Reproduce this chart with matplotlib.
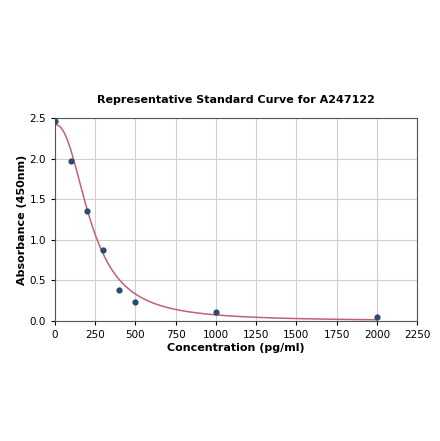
import matplotlib
matplotlib.use("Agg")
import matplotlib.pyplot as plt
import numpy as np

# standard points
conc = [0, 100, 200, 300, 400, 500, 1000, 2000]
absorb = [2.46, 1.97, 1.36, 0.88, 0.38, 0.23, 0.11, 0.05]

# 4PL fit parameters (top, bottom, ec50, slope) estimated from the drawn curve
fit_top = 2.42
fit_bottom = 0.0
fit_c = 225.0
fit_b = 2.3

xx = np.linspace(0, 2000, 500)
yy = fit_bottom + (fit_top - fit_bottom) / (1 + (xx / fit_c) ** fit_b)

fig = plt.figure(figsize=(4.4, 4.41), dpi=100)
ax = fig.add_axes([0.125, 0.272, 0.823, 0.46])
ax.plot(xx, yy, color='#c0607e', lw=1.1, zorder=2)
ax.scatter(conc, absorb, s=12, color='#2b4a6f', zorder=3)
ax.set_xlim(0, 2250)
ax.set_ylim(0, 2.5)
ax.set_xticks(np.arange(0, 2251, 250))
ax.set_yticks(np.arange(0, 2.51, 0.5))
ax.grid(True, color='#d0d0d0', lw=0.8)
ax.set_axisbelow(True)
ax.tick_params(labelsize=7.5, length=3)
for s in ax.spines.values():
    s.set_color('#555555')
ax.set_xlabel('Concentration (pg/ml)', fontsize=8, fontweight='bold', labelpad=2)
ax.set_ylabel('Absorbance (450nm)', fontsize=8, fontweight='bold', labelpad=2)
ax.set_title('Representative Standard Curve for A247122', fontsize=8, fontweight='bold', pad=11)
fig.savefig('out.png', dpi=100)
